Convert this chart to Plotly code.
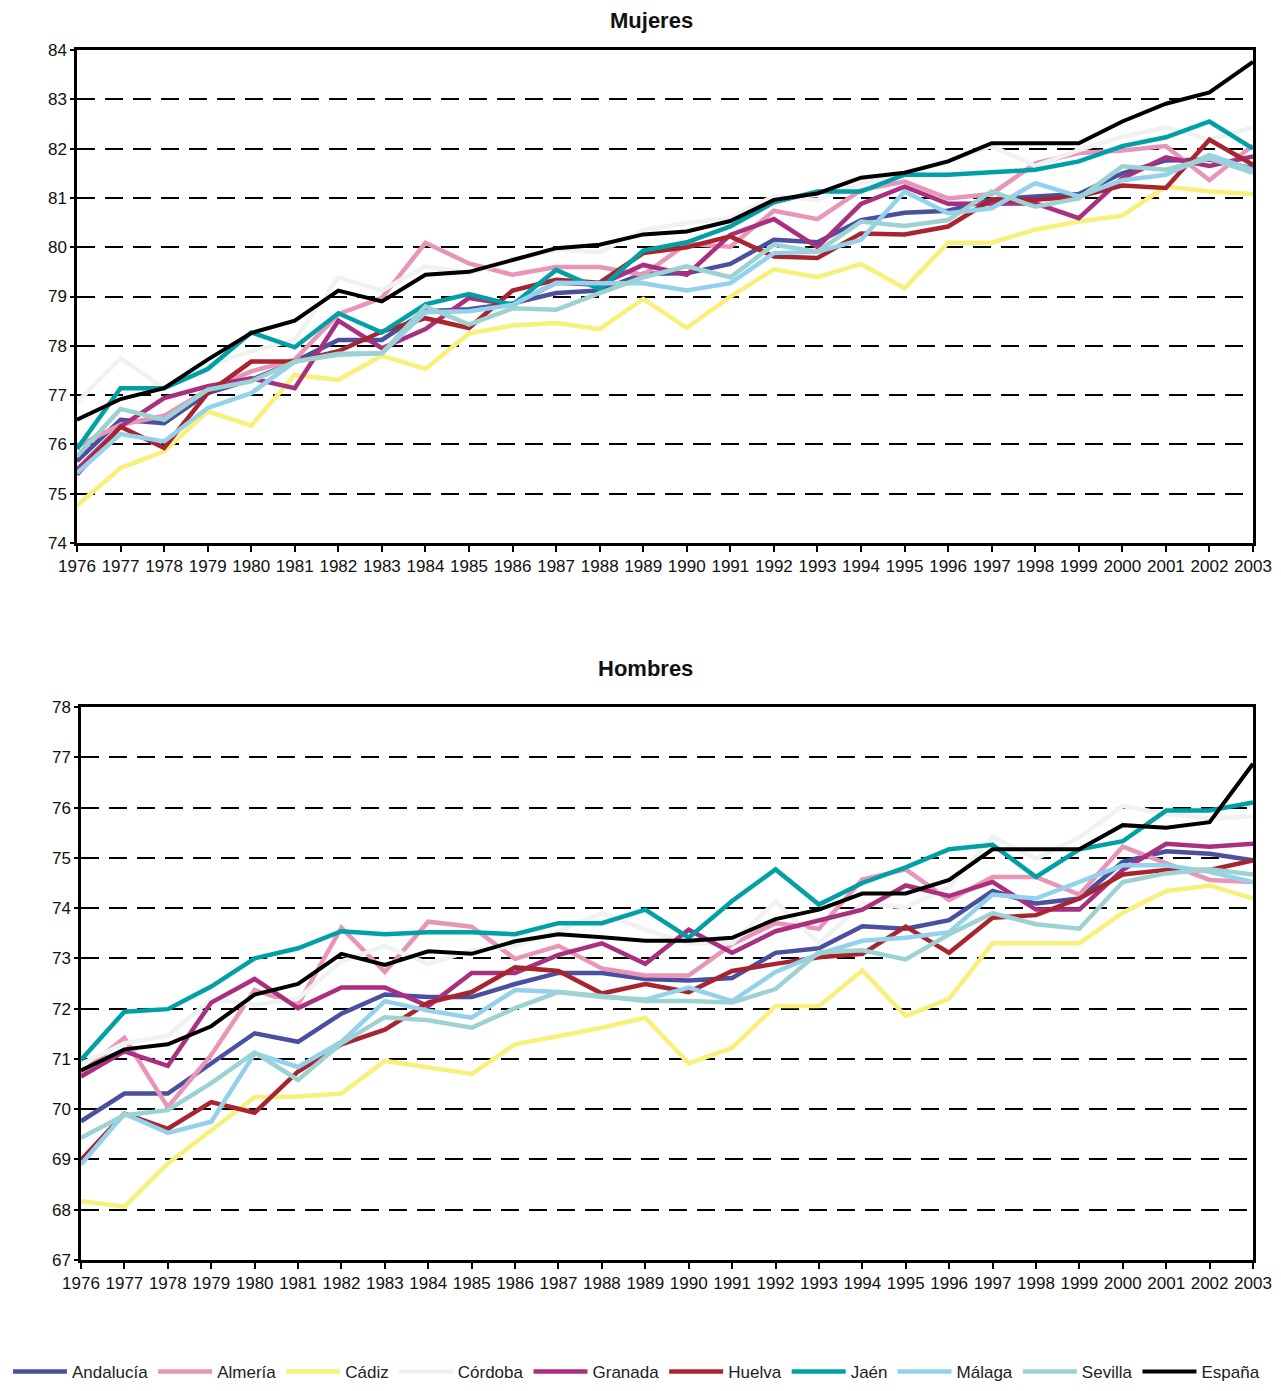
import plotly.graph_objects as go

years = list(range(1976, 2004))
series_names = ["Andalucía", "Almería", "Cádiz", "Córdoba", "Granada",
                "Huelva", "Jaén", "Málaga", "Sevilla", "España"]
colors = ["#4B4F9F", "#E895B8", "#F7F07A", "#EEF3F2", "#A8307F",
          "#A8252F", "#00A0A6", "#93D2EC", "#9DD2D2", "#000000"]

# Mujeres (women)
muj_andalucia = [75.66, 76.50, 76.43, 77.04, 77.31, 77.68, 78.12, 78.12, 78.70, 78.74,
                 78.86, 79.07, 79.12, 79.46, 79.47, 79.66, 80.15, 80.10, 80.55, 80.70,
                 80.74, 80.97, 81.03, 81.08, 81.50, 81.76, 81.78, 81.60]
muj_almeria = [75.96, 76.40, 76.58, 77.11, 77.48, 77.72, 78.64, 78.97, 80.09, 79.67,
               79.44, 79.60, 79.60, 79.44, 80.07, 80.01, 80.74, 80.57, 81.16, 81.33,
               80.99, 81.08, 81.70, 81.91, 81.96, 82.05, 81.36, 82.07]
muj_cadiz = [74.76, 75.52, 75.86, 76.67, 76.38, 77.41, 77.31, 77.80, 77.53, 78.25,
             78.41, 78.46, 78.34, 78.95, 78.36, 79.00, 79.55, 79.39, 79.66, 79.17,
             80.09, 80.09, 80.36, 80.52, 80.64, 81.23, 81.13, 81.08]
muj_cordoba = [76.85, 77.75, 77.14, 77.60, 77.89, 78.12, 79.39, 79.12, 79.61, 79.47,
               79.74, 79.95, 79.90, 80.35, 80.49, 80.59, 81.04, 80.96, 81.30, 81.45,
               81.77, 82.05, 81.65, 81.97, 82.24, 82.43, 82.18, 82.43]
muj_granada = [75.49, 76.36, 76.94, 77.18, 77.34, 77.14, 78.51, 77.95, 78.34, 78.97,
               78.83, 79.28, 79.24, 79.64, 79.44, 80.25, 80.57, 80.00, 80.88, 81.23,
               80.88, 80.89, 80.89, 80.59, 81.40, 81.82, 81.65, 81.84]
muj_huelva = [75.39, 76.36, 75.93, 77.04, 77.68, 77.68, 77.89, 78.29, 78.56, 78.36,
              79.12, 79.34, 79.28, 79.88, 80.00, 80.22, 79.81, 79.78, 80.28, 80.26,
              80.42, 80.96, 80.96, 81.03, 81.25, 81.20, 82.18, 81.67]
muj_jaen = [75.91, 77.14, 77.14, 77.53, 78.27, 77.97, 78.66, 78.27, 78.84, 79.05,
            78.83, 79.54, 79.15, 79.93, 80.10, 80.42, 80.91, 81.13, 81.13, 81.47,
            81.47, 81.51, 81.57, 81.74, 82.05, 82.23, 82.55, 82.00]
muj_malaga = [75.42, 76.21, 76.06, 76.74, 77.04, 77.68, 77.84, 77.85, 78.68, 78.70,
              78.83, 79.28, 79.27, 79.27, 79.12, 79.27, 79.88, 79.91, 80.15, 81.13,
              80.69, 80.79, 81.30, 81.03, 81.36, 81.47, 81.87, 81.57]
muj_sevilla = [75.76, 76.72, 76.50, 77.11, 77.28, 77.68, 77.82, 77.85, 78.80, 78.43,
               78.76, 78.73, 79.07, 79.39, 79.61, 79.39, 80.05, 79.91, 80.52, 80.43,
               80.55, 81.13, 80.82, 80.99, 81.64, 81.57, 81.80, 81.51]
muj_espana = [76.50, 76.92, 77.14, 77.72, 78.26, 78.51, 79.12, 78.90, 79.44, 79.50,
              79.74, 79.98, 80.05, 80.26, 80.32, 80.53, 80.96, 81.09, 81.41, 81.51,
              81.74, 82.11, 82.11, 82.11, 82.55, 82.91, 83.14, 83.76]

# Hombres (men)
hom_andalucia = [69.76, 70.31, 70.31, 70.91, 71.51, 71.34, 71.90, 72.28, 72.23, 72.23,
                 72.49, 72.71, 72.71, 72.59, 72.56, 72.61, 73.11, 73.20, 73.64, 73.59,
                 73.76, 74.34, 74.09, 74.19, 74.92, 75.13, 75.08, 74.95]
hom_almeria = [70.72, 71.42, 70.04, 71.08, 72.37, 72.08, 73.61, 72.73, 73.73, 73.63,
               72.99, 73.25, 72.80, 72.66, 72.66, 73.28, 73.70, 73.59, 74.57, 74.77,
               74.16, 74.62, 74.62, 74.27, 75.22, 74.88, 74.56, 74.52]
hom_cadiz = [68.17, 68.06, 68.92, 69.57, 70.24, 70.25, 70.31, 70.96, 70.84, 70.70,
             71.29, 71.46, 71.62, 71.82, 70.91, 71.22, 72.05, 72.05, 72.76, 71.85,
             72.20, 73.30, 73.30, 73.30, 73.91, 74.34, 74.45, 74.19]
hom_cordoba = [70.90, 71.31, 71.46, 72.19, 72.08, 72.20, 72.94, 73.25, 72.89, 73.16,
               73.25, 73.54, 73.90, 73.57, 73.30, 73.30, 74.13, 73.30, 74.09, 74.02,
               74.42, 75.42, 74.98, 75.41, 76.03, 75.87, 75.78, 75.82]
hom_granada = [70.65, 71.15, 70.86, 72.12, 72.59, 72.01, 72.42, 72.42, 72.05, 72.71,
               72.71, 73.07, 73.30, 72.89, 73.57, 73.11, 73.54, 73.76, 73.97, 74.45,
               74.24, 74.52, 73.97, 73.97, 74.76, 75.28, 75.22, 75.28]
hom_huelva = [68.99, 69.91, 69.61, 70.14, 69.93, 70.75, 71.29, 71.58, 72.12, 72.33,
              72.82, 72.75, 72.30, 72.49, 72.33, 72.75, 72.89, 73.02, 73.09, 73.63,
              73.11, 73.81, 73.86, 74.19, 74.67, 74.76, 74.76, 74.95]
hom_jaen = [70.98, 71.94, 71.99, 72.44, 73.00, 73.20, 73.54, 73.48, 73.52, 73.52,
            73.48, 73.70, 73.70, 73.97, 73.41, 74.14, 74.77, 74.07, 74.50, 74.81,
            75.17, 75.26, 74.62, 75.17, 75.33, 75.94, 75.94, 76.10]
hom_malaga = [68.90, 69.91, 69.53, 69.75, 71.11, 70.84, 71.34, 72.15, 71.96, 71.82,
              72.37, 72.33, 72.23, 72.18, 72.42, 72.15, 72.73, 73.09, 73.35, 73.41,
              73.52, 74.27, 74.19, 74.52, 74.85, 74.85, 74.72, 74.52]
hom_sevilla = [69.43, 69.88, 69.98, 70.52, 71.13, 70.58, 71.31, 71.83, 71.77, 71.62,
               72.01, 72.33, 72.25, 72.15, 72.15, 72.12, 72.39, 73.12, 73.16, 72.98,
               73.48, 73.90, 73.68, 73.59, 74.52, 74.69, 74.77, 74.67]
hom_espana = [70.77, 71.19, 71.29, 71.65, 72.28, 72.49, 73.09, 72.87, 73.14, 73.09,
              73.34, 73.48, 73.42, 73.35, 73.35, 73.41, 73.78, 73.97, 74.29, 74.29,
              74.56, 75.17, 75.17, 75.17, 75.65, 75.60, 75.71, 76.87]

mujeres = [muj_andalucia, muj_almeria, muj_cadiz, muj_cordoba, muj_granada,
           muj_huelva, muj_jaen, muj_malaga, muj_sevilla, muj_espana]
hombres = [hom_andalucia, hom_almeria, hom_cadiz, hom_cordoba, hom_granada,
           hom_huelva, hom_jaen, hom_malaga, hom_sevilla, hom_espana]

# page body has an 8px margin; figure fills the rest of the window
OFF = 8
W, H = 1281 - 2 * OFF, 1391 - 2 * OFF - 1
FONT = "Liberation Sans, Arial, sans-serif"

fig = go.Figure()
for name, col, ym, yh in zip(series_names, colors, mujeres, hombres):
    w = 4 if name == "España" else 4.5
    fig.add_trace(go.Scatter(x=years, y=ym, mode="lines", name=name,
                             line=dict(color=col, width=w),
                             legendgroup=name, showlegend=True,
                             xaxis="x", yaxis="y"))
    fig.add_trace(go.Scatter(x=years, y=yh, mode="lines", name=name,
                             line=dict(color=col, width=w),
                             legendgroup=name, showlegend=False,
                             xaxis="x2", yaxis="y2"))

def px_x(p):
    return (p - OFF) / W

def px_y(p):
    return 1 - (p - OFF) / H

axis_common = dict(showline=True, linecolor="black", linewidth=2.5, mirror=True,
                   ticks="outside", tickcolor="black", tickwidth=2, ticklen=6,
                   zeroline=False, automargin=False,
                   tickfont=dict(family=FONT, size=17, color="#111"))

xaxis_common = dict(axis_common, tickmode="array", tickvals=years,
                    ticktext=[str(y) for y in years], showgrid=False)
yaxis_common = dict(axis_common, dtick=1, showgrid=True, gridcolor="black",
                    gridwidth=2, griddash="18px,10px", ticklen=4)

fig.update_layout(
    width=W, height=H,
    margin=dict(l=0, r=0, t=0, b=0, autoexpand=False),
    paper_bgcolor="white", plot_bgcolor="white",
    xaxis=dict(xaxis_common, domain=[px_x(77), px_x(1253)], range=[1976, 2003],
               anchor="y"),
    yaxis=dict(yaxis_common, domain=[px_y(543), px_y(50)], range=[74, 84],
               anchor="x"),
    xaxis2=dict(xaxis_common, domain=[px_x(81), px_x(1253)], range=[1976, 2003],
                anchor="y2"),
    yaxis2=dict(yaxis_common, domain=[px_y(1260), px_y(707)], range=[67, 78],
                anchor="x2"),
    showlegend=True,
    legend=dict(orientation="h", x=0.0, xanchor="left", y=px_y(1372),
                yanchor="middle", font=dict(family=FONT, size=17, color="#222"),
                itemwidth=54, bgcolor="rgba(0,0,0,0)", tracegroupgap=0),
    annotations=[
        dict(text="<b>Mujeres</b>", x=px_x(652), y=px_y(20), xref="paper",
             yref="paper", showarrow=False, xanchor="center", yanchor="middle",
             font=dict(family=FONT, size=22, color="#111")),
        dict(text="<b>Hombres</b>", x=px_x(645), y=px_y(668), xref="paper",
             yref="paper", showarrow=False, xanchor="center", yanchor="middle",
             font=dict(family=FONT, size=22, color="#111")),
    ],
)

fig.write_html("out.html")
